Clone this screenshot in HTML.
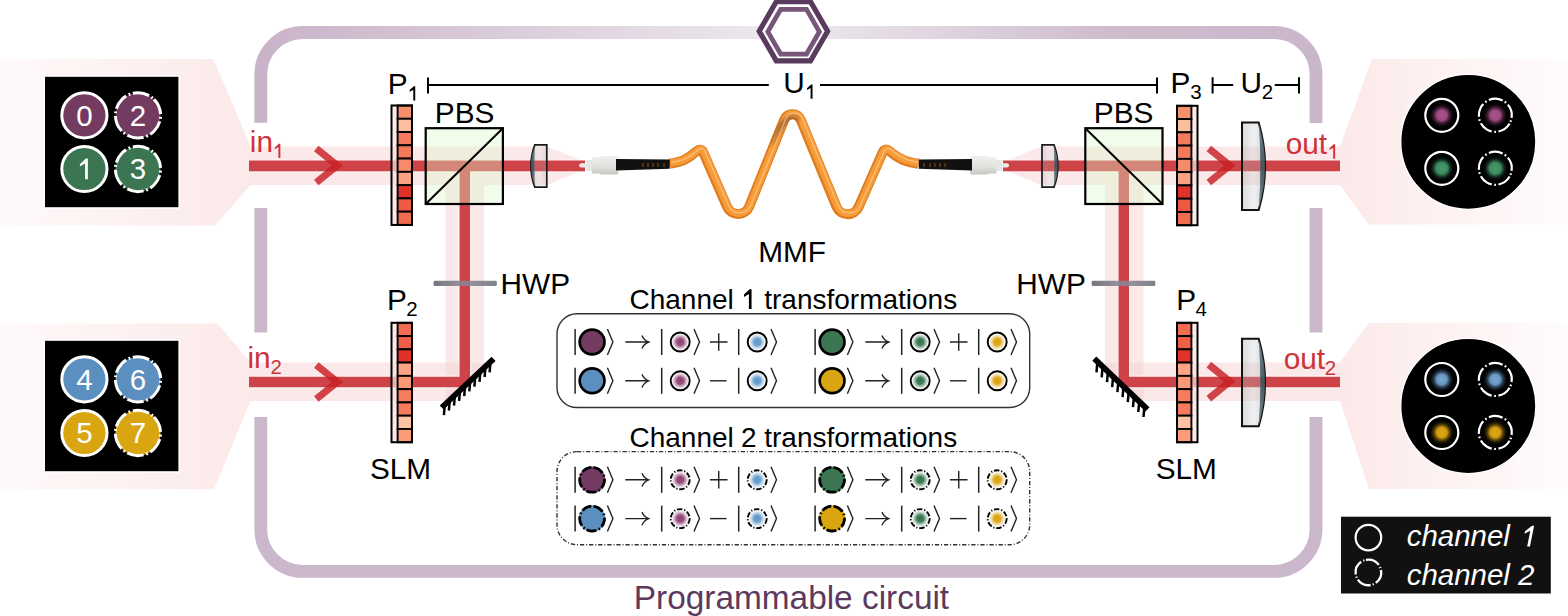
<!DOCTYPE html>
<html><head><meta charset="utf-8"><style>html,body{margin:0;padding:0;background:#fff;overflow:hidden;} svg{display:block;}</style></head>
<body><svg width="1568" height="616" viewBox="0 0 1568 616" font-family='"Liberation Sans", sans-serif'>
<defs>
 <linearGradient id="fanL" gradientUnits="userSpaceOnUse" x1="0" y1="0" x2="250" y2="0">
  <stop offset="0" stop-color="#fffafa"/><stop offset="0.5" stop-color="#fdf1f1"/><stop offset="1" stop-color="#fce9e9"/>
 </linearGradient>
 <linearGradient id="fanR" gradientUnits="userSpaceOnUse" x1="1340" y1="0" x2="1568" y2="0">
  <stop offset="0" stop-color="#fce8e8"/><stop offset="0.3" stop-color="#fdefef"/><stop offset="0.7" stop-color="#fef6f6"/><stop offset="1" stop-color="#fffcfc"/>
 </linearGradient>
 <linearGradient id="topB" gradientUnits="userSpaceOnUse" x1="260" y1="0" x2="1316" y2="0">
  <stop offset="0" stop-color="#c9b3c9"/><stop offset="0.5" stop-color="#eee9ef"/><stop offset="0.8" stop-color="#cfbdcf"/><stop offset="1" stop-color="#cab6cb"/>
 </linearGradient>
 <radialGradient id="gP"><stop offset="0" stop-color="#8e3f72"/><stop offset="0.4" stop-color="#99507f"/><stop offset="1" stop-color="#b88aa6" stop-opacity="0"/></radialGradient>
 <radialGradient id="gB"><stop offset="0" stop-color="#5f98ca"/><stop offset="0.4" stop-color="#6ea2d0"/><stop offset="1" stop-color="#a6c6e2" stop-opacity="0"/></radialGradient>
 <radialGradient id="gG"><stop offset="0" stop-color="#34714c"/><stop offset="0.4" stop-color="#457f5c"/><stop offset="1" stop-color="#8ab29a" stop-opacity="0"/></radialGradient>
 <radialGradient id="gY"><stop offset="0" stop-color="#d9a00e"/><stop offset="0.4" stop-color="#dfaa22"/><stop offset="1" stop-color="#ecd080" stop-opacity="0"/></radialGradient>
 <radialGradient id="oP"><stop offset="0" stop-color="#ac5288"/><stop offset="0.4" stop-color="#9c4a80"/><stop offset="1" stop-color="#000" stop-opacity="0"/></radialGradient>
 <radialGradient id="oB"><stop offset="0" stop-color="#7aa8d2"/><stop offset="0.4" stop-color="#6896c2"/><stop offset="1" stop-color="#000" stop-opacity="0"/></radialGradient>
 <radialGradient id="oG"><stop offset="0" stop-color="#489a6c"/><stop offset="0.45" stop-color="#3c8a5e"/><stop offset="1" stop-color="#000" stop-opacity="0"/></radialGradient>
 <radialGradient id="oY"><stop offset="0" stop-color="#e0aa14"/><stop offset="0.4" stop-color="#cf9a10"/><stop offset="1" stop-color="#000" stop-opacity="0"/></radialGradient>
 <linearGradient id="lensT" x1="0" y1="0" x2="1" y2="0"><stop offset="0" stop-color="#a9acb2" stop-opacity="0.3"/><stop offset="0.5" stop-color="#c8c8cc" stop-opacity="0.16"/><stop offset="1" stop-color="#a6aab0" stop-opacity="0.3"/></linearGradient>
 <linearGradient id="lensD" x1="0" y1="0" x2="0" y2="1"><stop offset="0" stop-color="#6d8088"/><stop offset="0.5" stop-color="#3f5058"/><stop offset="1" stop-color="#6d8088"/></linearGradient>
 <linearGradient id="lensTB" x1="0" y1="0" x2="1" y2="0"><stop offset="0" stop-color="#a0a6ac" stop-opacity="0.42"/><stop offset="0.5" stop-color="#c4c6ca" stop-opacity="0.28"/><stop offset="1" stop-color="#9aa0a6" stop-opacity="0.42"/></linearGradient>
 <linearGradient id="lensR" x1="0" y1="0" x2="1" y2="0"><stop offset="0" stop-color="#d4d9db"/><stop offset="0.5" stop-color="#eceef0"/><stop offset="1" stop-color="#cfd5d8"/></linearGradient>
 <linearGradient id="hwp" x1="0" y1="0" x2="1" y2="0"><stop offset="0" stop-color="#5d5d6a"/><stop offset="0.5" stop-color="#8a8a96"/><stop offset="1" stop-color="#6a6a76"/></linearGradient>
 <linearGradient id="conn" x1="0" y1="0" x2="0" y2="1"><stop offset="0" stop-color="#f0f0ee"/><stop offset="0.6" stop-color="#e0e0dc"/><stop offset="1" stop-color="#c8c8c3"/></linearGradient>
 <filter id="blur1" x="-20%" y="-20%" width="140%" height="140%"><feGaussianBlur stdDeviation="1.1"/></filter>
 <linearGradient id="shadeG" gradientUnits="userSpaceOnUse" x1="770" y1="150" x2="800" y2="117"><stop offset="0" stop-color="#6e4a30" stop-opacity="0"/><stop offset="0.6" stop-color="#6e4a30" stop-opacity="0.6"/><stop offset="1" stop-color="#6e4a30" stop-opacity="0.25"/></linearGradient>
</defs>

<polygon points="0,59 213.5,59 250.5,146.5 250.5,185 215,225.4 0,225.4" fill="url(#fanL)"/>
<polygon points="0,323.4 217.5,323.4 250.5,362.5 250.5,401 214,489.3 0,489.3" fill="url(#fanL)"/>
<polygon points="1340,146.5 1372,59 1568,59 1568,224.4 1368.7,224.4 1340,185" fill="url(#fanR)"/>
<polygon points="1340,362.5 1369,322.7 1568,322.7 1568,489 1369,489 1340,401" fill="url(#fanR)"/>
<path d="M260.8,122.7 V75 A42,42 0 0 1 302.8,32.5 H1274 A42,42 0 0 1 1316,74.5 V122.9" fill="none" stroke="url(#topB)" stroke-width="12.8"/>
<path d="M260.8,208 V332.5 M260.8,417 V529.5 A42,42 0 0 0 302.8,571.4 H1274 A42,42 0 0 0 1316,529.5 V417 M1316,332.5 V208" fill="none" stroke="#cbb7cb" stroke-width="12.8"/>
<polygon points="827.60,31.20 810.50,60.82 776.30,60.82 759.20,31.20 776.30,1.58 810.50,1.58" fill="#fff" stroke="#5a3a5e" stroke-width="5.2"/>
<polygon points="819.40,31.70 806.50,54.04 780.70,54.04 767.80,31.70 780.70,9.36 806.50,9.36" fill="#fff" stroke="#775679" stroke-width="4.7"/>
<rect x="250" y="146.5" width="297" height="38.5" fill="#fbe8e8"/>
<polygon points="547,146.5 585,162 585,169 547,185" fill="#fbe8e8"/>
<polygon points="1003,162 1041,146.5 1041,185 1003,169" fill="#fbe8e8"/>
<rect x="1041" y="146.5" width="299" height="38.5" fill="#fbe8e8"/>
<rect x="250" y="362.5" width="234" height="38.5" fill="#fbe8e8" />
<rect x="1105" y="362.5" width="235" height="38.5" fill="#fbe8e8" />
<rect x="445.5" y="185" width="38.5" height="177.5" fill="#fbe8e8"/>
<rect x="1105" y="185" width="38.5" height="177.5" fill="#fbe8e8"/>
<rect x="445.5" y="362.5" width="38.5" height="38.5" fill="#f8dddd"/>
<rect x="1105" y="362.5" width="38.5" height="38.5" fill="#f8dddd"/>
<path d="M249,165.9 H585 M1003,165.9 H1340 M249,382 H464.8 V171 M1340,382 H1123.8 V171" fill="none" stroke="#fff" stroke-width="13" opacity="0.55"/>
<rect x="249" y="160.5" width="336" height="10.8" fill="#cd4347" opacity="1"/>
<rect x="1003" y="160.5" width="337" height="10.8" fill="#cd4347" opacity="1"/>
<path d="M249,382 H464.8 V171" fill="none" stroke="#cd4347" stroke-width="10.5" opacity="1"/>
<path d="M1340,382 H1123.8 V171" fill="none" stroke="#cd4347" stroke-width="10.5" opacity="1"/>
<polygon points="436,413 499.5,353.3 499.5,413" fill="#fff"/>
<polygon points="1088.6,353.3 1153,414.5 1088.6,414.5" fill="#fff"/>
<path d="M534.8000000000001,144.8 H546.8 V187.2 H534.8000000000001 Q527.0,166.0 534.8000000000001,144.8 Z" fill="url(#lensT)" stroke="#1a1a1a" stroke-width="1.7"/><path d="M534.8000000000001,145.70000000000002 Q527.0,166.0 534.8000000000001,186.29999999999998 Q534.0000000000001,166.0 534.8000000000001,145.70000000000002 Z" fill="url(#lensD)" opacity="0.9"/>
<path d="M1042,144.8 H1054.0 Q1061.8,166.0 1054.0,187.2 H1042 Z" fill="url(#lensT)" stroke="#1a1a1a" stroke-width="1.7"/><path d="M1054.0,145.70000000000002 Q1061.8,166.0 1054.0,186.29999999999998 Q1054.8,166.0 1054.0,145.70000000000002 Z" fill="url(#lensD)" opacity="0.9"/>
<path d="M1242,122.5 H1258.7 Q1271.5,166.25 1258.7,210.0 H1242 Z" fill="url(#lensTB)" stroke="#111" stroke-width="2"/>
<path d="M1258.7,123.5 Q1271.5,166.25 1258.7,209.0 Q1262,166.25 1258.7,123.5 Z" fill="url(#lensD)" opacity="0.92"/>
<path d="M1242,338.7 H1258.7 Q1271.5,382.45 1258.7,426.2 H1242 Z" fill="url(#lensTB)" stroke="#111" stroke-width="2"/>
<path d="M1258.7,339.7 Q1271.5,382.45 1258.7,425.2 Q1262,382.45 1258.7,339.7 Z" fill="url(#lensD)" opacity="0.92"/>
<path d="M316.3,148.5 L337.3,165.5 L316.3,182.5" fill="none" stroke="#c81e24" stroke-width="7.2" opacity="0.82"/>
<path d="M316.3,365 L337.3,382 L316.3,399" fill="none" stroke="#c81e24" stroke-width="7.2" opacity="0.82"/>
<path d="M1208.8,148.5 L1229.8,165.5 L1208.8,182.5" fill="none" stroke="#c81e24" stroke-width="7.2" opacity="0.82"/>
<path d="M1208.8,364.6 L1229.8,381.6 L1208.8,398.6" fill="none" stroke="#c81e24" stroke-width="7.2" opacity="0.82"/>
<rect x="391.5" y="105.5" width="6.1" height="119.43" fill="#fde0e0" fill-opacity="0.7"/><rect x="397.6" y="105.50" width="14.4" height="13.27" fill="#f5906f" stroke="#000" stroke-width="1.9"/><rect x="397.6" y="118.77" width="14.4" height="13.27" fill="#fbbf9f" stroke="#000" stroke-width="1.9"/><rect x="397.6" y="132.04" width="14.4" height="13.27" fill="#f47b5d" stroke="#000" stroke-width="1.9"/><rect x="397.6" y="145.31" width="14.4" height="13.27" fill="#f27a5a" stroke="#000" stroke-width="1.9"/><rect x="397.6" y="158.58" width="14.4" height="13.27" fill="#f58b6b" stroke="#000" stroke-width="1.9"/><rect x="397.6" y="171.85" width="14.4" height="13.27" fill="#f9a283" stroke="#000" stroke-width="1.9"/><rect x="397.6" y="185.12" width="14.4" height="13.27" fill="#e0322a" stroke="#000" stroke-width="1.9"/><rect x="397.6" y="198.39" width="14.4" height="13.27" fill="#ee5a44" stroke="#000" stroke-width="1.9"/><rect x="397.6" y="211.66" width="14.4" height="13.27" fill="#f06c50" stroke="#000" stroke-width="1.9"/><rect x="391.5" y="105.5" width="20.5" height="119.43" fill="none" stroke="#000" stroke-width="2"/>
<rect x="391.5" y="322.8" width="6.1" height="119.43" fill="#fde0e0" fill-opacity="0.7"/><rect x="397.6" y="322.80" width="14.4" height="13.27" fill="#f26c51" stroke="#000" stroke-width="1.9"/><rect x="397.6" y="336.07" width="14.4" height="13.27" fill="#f05f48" stroke="#000" stroke-width="1.9"/><rect x="397.6" y="349.34" width="14.4" height="13.27" fill="#e0322a" stroke="#000" stroke-width="1.9"/><rect x="397.6" y="362.61" width="14.4" height="13.27" fill="#fca485" stroke="#000" stroke-width="1.9"/><rect x="397.6" y="375.88" width="14.4" height="13.27" fill="#fb9878" stroke="#000" stroke-width="1.9"/><rect x="397.6" y="389.15" width="14.4" height="13.27" fill="#f67c5d" stroke="#000" stroke-width="1.9"/><rect x="397.6" y="402.42" width="14.4" height="13.27" fill="#f57b5d" stroke="#000" stroke-width="1.9"/><rect x="397.6" y="415.69" width="14.4" height="13.27" fill="#fdc3a3" stroke="#000" stroke-width="1.9"/><rect x="397.6" y="428.96" width="14.4" height="13.27" fill="#fb9b7a" stroke="#000" stroke-width="1.9"/><rect x="391.5" y="322.8" width="20.5" height="119.43" fill="none" stroke="#000" stroke-width="2"/>
<rect x="1191.4" y="105.8" width="6.1" height="119.43" fill="#fde0e0" fill-opacity="0.7"/><rect x="1177" y="105.80" width="14.4" height="13.27" fill="#f5906f" stroke="#000" stroke-width="1.9"/><rect x="1177" y="119.07" width="14.4" height="13.27" fill="#fbbf9f" stroke="#000" stroke-width="1.9"/><rect x="1177" y="132.34" width="14.4" height="13.27" fill="#f47b5d" stroke="#000" stroke-width="1.9"/><rect x="1177" y="145.61" width="14.4" height="13.27" fill="#f27a5a" stroke="#000" stroke-width="1.9"/><rect x="1177" y="158.88" width="14.4" height="13.27" fill="#f58b6b" stroke="#000" stroke-width="1.9"/><rect x="1177" y="172.15" width="14.4" height="13.27" fill="#f9a283" stroke="#000" stroke-width="1.9"/><rect x="1177" y="185.42" width="14.4" height="13.27" fill="#e0322a" stroke="#000" stroke-width="1.9"/><rect x="1177" y="198.69" width="14.4" height="13.27" fill="#ee5a44" stroke="#000" stroke-width="1.9"/><rect x="1177" y="211.96" width="14.4" height="13.27" fill="#f06c50" stroke="#000" stroke-width="1.9"/><rect x="1177" y="105.8" width="20.5" height="119.43" fill="none" stroke="#000" stroke-width="2"/>
<rect x="1191.4" y="322.8" width="6.1" height="119.43" fill="#fde0e0" fill-opacity="0.7"/><rect x="1177" y="322.80" width="14.4" height="13.27" fill="#f26c51" stroke="#000" stroke-width="1.9"/><rect x="1177" y="336.07" width="14.4" height="13.27" fill="#f05f48" stroke="#000" stroke-width="1.9"/><rect x="1177" y="349.34" width="14.4" height="13.27" fill="#e0322a" stroke="#000" stroke-width="1.9"/><rect x="1177" y="362.61" width="14.4" height="13.27" fill="#fca485" stroke="#000" stroke-width="1.9"/><rect x="1177" y="375.88" width="14.4" height="13.27" fill="#fb9878" stroke="#000" stroke-width="1.9"/><rect x="1177" y="389.15" width="14.4" height="13.27" fill="#f67c5d" stroke="#000" stroke-width="1.9"/><rect x="1177" y="402.42" width="14.4" height="13.27" fill="#f57b5d" stroke="#000" stroke-width="1.9"/><rect x="1177" y="415.69" width="14.4" height="13.27" fill="#fdc3a3" stroke="#000" stroke-width="1.9"/><rect x="1177" y="428.96" width="14.4" height="13.27" fill="#fb9b7a" stroke="#000" stroke-width="1.9"/><rect x="1177" y="322.8" width="20.5" height="119.43" fill="none" stroke="#000" stroke-width="2"/>
<rect x="425.7" y="128.2" width="77.2" height="75.8" fill="#dcf8c8" fill-opacity="0.38" stroke="#000" stroke-width="2.2"/>
<line x1="425.7" y1="204.0" x2="502.9" y2="128.2" stroke="#000" stroke-width="2"/>
<rect x="1085.3" y="128.2" width="77.2" height="75.8" fill="#dcf8c8" fill-opacity="0.38" stroke="#000" stroke-width="2.2"/>
<line x1="1085.3" y1="128.2" x2="1162.5" y2="204.0" stroke="#000" stroke-width="2"/>
<rect x="433.6" y="280.8" width="63.2" height="5.2" rx="1.2" fill="url(#hwp)" opacity="0.85"/>
<rect x="1091.7" y="280.8" width="63.6" height="5.2" rx="1.2" fill="url(#hwp)" opacity="0.85"/>
<line x1="441.7" y1="407.5" x2="493.6" y2="358.8" stroke="#000" stroke-width="5.8"/><line x1="444.8" y1="404.6" x2="443.9" y2="415.2" stroke="#000" stroke-width="2.5"/><line x1="449.8" y1="399.9" x2="448.9" y2="410.5" stroke="#000" stroke-width="2.5"/><line x1="454.9" y1="395.1" x2="454.0" y2="405.7" stroke="#000" stroke-width="2.5"/><line x1="460.0" y1="390.3" x2="459.1" y2="400.9" stroke="#000" stroke-width="2.5"/><line x1="465.1" y1="385.5" x2="464.2" y2="396.1" stroke="#000" stroke-width="2.5"/><line x1="470.2" y1="380.8" x2="469.3" y2="391.4" stroke="#000" stroke-width="2.5"/><line x1="475.3" y1="376.0" x2="474.4" y2="386.6" stroke="#000" stroke-width="2.5"/><line x1="480.4" y1="371.2" x2="479.5" y2="381.8" stroke="#000" stroke-width="2.5"/><line x1="485.5" y1="366.4" x2="484.6" y2="377.0" stroke="#000" stroke-width="2.5"/><line x1="490.5" y1="361.7" x2="489.6" y2="372.3" stroke="#000" stroke-width="2.5"/>
<line x1="1094.3" y1="358.7" x2="1147.5" y2="409.4" stroke="#000" stroke-width="5.8"/><line x1="1097.4" y1="361.7" x2="1096.5" y2="372.3" stroke="#000" stroke-width="2.5"/><line x1="1102.6" y1="366.7" x2="1101.7" y2="377.3" stroke="#000" stroke-width="2.5"/><line x1="1107.9" y1="371.6" x2="1107.0" y2="382.2" stroke="#000" stroke-width="2.5"/><line x1="1113.1" y1="376.6" x2="1112.2" y2="387.2" stroke="#000" stroke-width="2.5"/><line x1="1118.3" y1="381.6" x2="1117.4" y2="392.2" stroke="#000" stroke-width="2.5"/><line x1="1123.5" y1="386.5" x2="1122.6" y2="397.1" stroke="#000" stroke-width="2.5"/><line x1="1128.7" y1="391.5" x2="1127.8" y2="402.1" stroke="#000" stroke-width="2.5"/><line x1="1133.9" y1="396.5" x2="1133.0" y2="407.1" stroke="#000" stroke-width="2.5"/><line x1="1139.2" y1="401.4" x2="1138.3" y2="412.0" stroke="#000" stroke-width="2.5"/><line x1="1144.4" y1="406.4" x2="1143.5" y2="417.0" stroke="#000" stroke-width="2.5"/>
<path d="M669.75,163.70 L674.50,162.90 L679.60,161.60 L683.50,160.20 L686.90,158.30 L690.00,156.40 L692.80,154.30 L695.50,152.00 L697.67,150.40 A3.50,3.50 0 0 1 702.96,151.81 L727.06,206.87 A12.00,12.00 0 0 0 749.18,206.55 L784.13,119.98 A9.00,9.00 0 0 1 800.80,119.93 L836.55,206.85 A12.00,12.00 0 0 0 858.64,207.10 L882.90,151.68 A3.50,3.50 0 0 1 888.09,150.19 L890.72,152.00 L893.62,154.30 L896.63,156.40 L899.96,158.30 L903.61,160.20 L907.80,161.60 L913.28,162.90 L918.38,163.70" fill="none" stroke="#df7a1f" stroke-width="10" stroke-linejoin="round"/>
<path d="M669.75,163.70 L674.50,162.90 L679.60,161.60 L683.50,160.20 L686.90,158.30 L690.00,156.40 L692.80,154.30 L695.50,152.00 L697.67,150.40 A3.50,3.50 0 0 1 702.96,151.81 L727.06,206.87 A12.00,12.00 0 0 0 749.18,206.55 L784.13,119.98 A9.00,9.00 0 0 1 800.80,119.93 L836.55,206.85 A12.00,12.00 0 0 0 858.64,207.10 L882.90,151.68 A3.50,3.50 0 0 1 888.09,150.19 L890.72,152.00 L893.62,154.30 L896.63,156.40 L899.96,158.30 L903.61,160.20 L907.80,161.60 L913.28,162.90 L918.38,163.70" fill="none" stroke="#f59b37" stroke-width="7.2" stroke-linejoin="round" transform="translate(0.7,-0.6)"/>
<mask id="fibmask" maskUnits="userSpaceOnUse" x="600" y="80" width="400" height="160"><path d="M669.75,163.70 L674.50,162.90 L679.60,161.60 L683.50,160.20 L686.90,158.30 L690.00,156.40 L692.80,154.30 L695.50,152.00 L697.67,150.40 A3.50,3.50 0 0 1 702.96,151.81 L727.06,206.87 A12.00,12.00 0 0 0 749.18,206.55 L784.13,119.98 A9.00,9.00 0 0 1 800.80,119.93 L836.55,206.85 A12.00,12.00 0 0 0 858.64,207.10 L882.90,151.68 A3.50,3.50 0 0 1 888.09,150.19 L890.72,152.00 L893.62,154.30 L896.63,156.40 L899.96,158.30 L903.61,160.20 L907.80,161.60 L913.28,162.90 L918.38,163.70" fill="none" stroke="#fff" stroke-width="9.6" stroke-linejoin="round"/></mask>
<g mask="url(#fibmask)"><path d="M772,146 C777,133 783,121 790,117.5 C793,116.5 796,117.5 799,120" fill="none" stroke="url(#shadeG)" stroke-width="6" filter="url(#blur1)"/></g>
<path d="M669.75,163.70 L674.50,162.90 L679.60,161.60 L683.50,160.20 L686.90,158.30 L690.00,156.40 L692.80,154.30 L695.50,152.00 L697.67,150.40 A3.50,3.50 0 0 1 702.96,151.81 L727.06,206.87 A12.00,12.00 0 0 0 749.18,206.55 L784.13,119.98 A9.00,9.00 0 0 1 800.80,119.93 L836.55,206.85 A12.00,12.00 0 0 0 858.64,207.10 L882.90,151.68 A3.50,3.50 0 0 1 888.09,150.19 L890.72,152.00 L893.62,154.30 L896.63,156.40 L899.96,158.30 L903.61,160.20 L907.80,161.60 L913.28,162.90 L918.38,163.70" fill="none" stroke="#ffd3a0" stroke-width="1.6" stroke-linejoin="round" opacity="0.55" transform="translate(1.6,-1.3)"/>
<rect x="579.2" y="163.3" width="8" height="4.3" rx="2" fill="#e8ece8"/><rect x="586.4" y="160" width="6" height="11" fill="#e6e6e2"/><rect x="592" y="157" width="8" height="16.6" rx="1" fill="url(#conn)"/><rect x="599.5" y="156" width="19" height="18.5" rx="1.5" fill="url(#conn)"/><path d="M616,159 L669.8,159.6 L669.8,168.8 L616,170.6 Z" fill="#111"/><line x1="643" y1="163" x2="643" y2="167" stroke="#9a5a15" stroke-width="0.9"/><line x1="648" y1="163" x2="648" y2="167" stroke="#9a5a15" stroke-width="0.9"/><line x1="653" y1="163" x2="653" y2="167" stroke="#9a5a15" stroke-width="0.9"/><line x1="658" y1="163" x2="658" y2="167" stroke="#9a5a15" stroke-width="0.9"/><line x1="664" y1="163" x2="664" y2="167" stroke="#9a5a15" stroke-width="0.9"/>
<rect x="1001" y="163.3" width="8" height="4.3" rx="2" fill="#e8ece8"/><rect x="996" y="160" width="6" height="11" fill="#e6e6e2"/><rect x="988.5" y="157" width="8" height="16.6" rx="1" fill="url(#conn)"/><rect x="970" y="156" width="19" height="18.5" rx="1.5" fill="url(#conn)"/><path d="M972,159 L918.8,159.6 L918.8,168.8 L972,170.6 Z" fill="#111"/><line x1="924" y1="163" x2="924" y2="167" stroke="#9a5a15" stroke-width="0.9"/><line x1="930" y1="163" x2="930" y2="167" stroke="#9a5a15" stroke-width="0.9"/><line x1="935" y1="163" x2="935" y2="167" stroke="#9a5a15" stroke-width="0.9"/><line x1="940" y1="163" x2="940" y2="167" stroke="#9a5a15" stroke-width="0.9"/><line x1="945" y1="163" x2="945" y2="167" stroke="#9a5a15" stroke-width="0.9"/>
<text transform="translate(387.76,94.20) scale(1,1.02)" font-size="29.8" fill="#000" text-anchor="start" font-style="normal">P</text>
<polygon points="415.24,100.60 415.24,86.25 413.80,86.25 409.70,90.12 409.70,91.85 413.29,89.69 413.29,100.60" fill="#000"/>
<text transform="translate(434.86,122.70) scale(1,1.02)" font-size="29.8" fill="#000" text-anchor="start" font-style="normal">PBS</text>
<text transform="translate(1093.86,122.90) scale(1,1.02)" font-size="29.8" fill="#000" text-anchor="start" font-style="normal">PBS</text>
<text transform="translate(1170.46,93.00) scale(1,1.02)" font-size="29.8" fill="#000" text-anchor="start" font-style="normal">P</text>
<text transform="translate(1190.32,98.75) scale(1,1.02)" font-size="20.5" fill="#000" text-anchor="start" font-style="normal">3</text>
<text transform="translate(1240.50,93.00) scale(1,1.02)" font-size="29.8" fill="#000" text-anchor="start" font-style="normal">U</text>
<text transform="translate(1261.87,98.75) scale(1,1.02)" font-size="20.5" fill="#000" text-anchor="start" font-style="normal">2</text>
<text transform="translate(783.30,93.00) scale(1,1.02)" font-size="29.8" fill="#000" text-anchor="start" font-style="normal">U</text>
<polygon points="812.53,98.80 812.53,84.45 811.10,84.45 807.00,88.32 807.00,90.05 810.59,87.89 810.59,98.80" fill="#000"/>
<text transform="translate(387.06,310.00) scale(1,1.02)" font-size="29.8" fill="#000" text-anchor="start" font-style="normal">P</text>
<text transform="translate(406.17,315.70) scale(1,1.02)" font-size="20.5" fill="#000" text-anchor="start" font-style="normal">2</text>
<text transform="translate(1176.16,310.00) scale(1,1.02)" font-size="29.8" fill="#000" text-anchor="start" font-style="normal">P</text>
<text transform="translate(1195.53,315.70) scale(1,1.02)" font-size="20.5" fill="#000" text-anchor="start" font-style="normal">4</text>
<text transform="translate(758.26,261.80) scale(1,1.02)" font-size="29.8" fill="#000" text-anchor="start" font-style="normal">MMF</text>
<text transform="translate(500.56,294.20) scale(1,1.02)" font-size="29.8" fill="#000" text-anchor="start" font-style="normal">HWP</text>
<text transform="translate(1016.36,293.60) scale(1,1.02)" font-size="29.8" fill="#000" text-anchor="start" font-style="normal">HWP</text>
<text transform="translate(369.95,478.90) scale(1,1.02)" font-size="29.8" fill="#000" text-anchor="start" font-style="normal">SLM</text>
<text transform="translate(1155.65,478.70) scale(1,1.02)" font-size="29.8" fill="#000" text-anchor="start" font-style="normal">SLM</text>
<text transform="translate(249.80,152.30) scale(1,1.02)" font-size="29.8" fill="#cd3338" text-anchor="start" font-style="normal">in</text>
<polygon points="280.34,158.00 280.34,143.65 278.90,143.65 274.80,147.52 274.80,149.25 278.39,147.09 278.39,158.00" fill="#cd3338"/>
<text transform="translate(247.40,367.90) scale(1,1.02)" font-size="29.8" fill="#cd3338" text-anchor="start" font-style="normal">in</text>
<text transform="translate(270.47,373.80) scale(1,1.02)" font-size="20.5" fill="#cd3338" text-anchor="start" font-style="normal">2</text>
<text transform="translate(1285.65,153.60) scale(1,1.02)" font-size="29.8" fill="#cd3338" text-anchor="start" font-style="normal">out</text>
<polygon points="1335.13,158.70 1335.13,144.35 1333.70,144.35 1329.60,148.22 1329.60,149.95 1333.19,147.79 1333.19,158.70" fill="#cd3338"/>
<text transform="translate(1283.65,369.10) scale(1,1.02)" font-size="29.8" fill="#cd3338" text-anchor="start" font-style="normal">out</text>
<text transform="translate(1324.87,374.80) scale(1,1.02)" font-size="20.5" fill="#cd3338" text-anchor="start" font-style="normal">2</text>
<path d="M428,85 H768.8 M820,85 H1157 M428,77.5 V93.5 M1157,77.5 V93.5 M1212.6,85 H1233.2 M1212.6,77.2 V93.5 M1274.8,85 H1299 M1299,77.2 V93.5" stroke="#000" stroke-width="2" fill="none"/>
<rect x="44.2" y="76" width="135" height="132" fill="#000" stroke="#fff" stroke-width="1.6"/><circle cx="84.4" cy="115.3" r="22.6" fill="#733b60" stroke="#fff" stroke-width="3"/><text transform="translate(84.40,125.50) scale(1,1.02)" font-size="29.5" fill="#fff" text-anchor="middle" font-style="normal">0</text><circle cx="138" cy="115.3" r="22.6" fill="#733b60" stroke="#fff" stroke-width="3" stroke-dasharray="16.5,2.7,1.8,2.67" transform="rotate(-45 138 115.3)"/><text transform="translate(138.00,125.50) scale(1,1.02)" font-size="29.5" fill="#fff" text-anchor="middle" font-style="normal">2</text><circle cx="84.4" cy="169" r="22.6" fill="#3c7552" stroke="#fff" stroke-width="3"/><polygon points="87.87,179.20 87.87,158.55 85.80,158.55 79.90,164.13 79.90,166.60 85.06,163.51 85.06,179.20" fill="#fff"/><circle cx="138" cy="169" r="22.6" fill="#3c7552" stroke="#fff" stroke-width="3" stroke-dasharray="16.5,2.7,1.8,2.67" transform="rotate(-45 138 169)"/><text transform="translate(138.00,179.20) scale(1,1.02)" font-size="29.5" fill="#fff" text-anchor="middle" font-style="normal">3</text>
<rect x="44.2" y="340" width="135" height="132" fill="#000" stroke="#fff" stroke-width="1.6"/><circle cx="84.4" cy="379.3" r="22.6" fill="#5a8fc0" stroke="#fff" stroke-width="3"/><text transform="translate(84.40,389.50) scale(1,1.02)" font-size="29.5" fill="#fff" text-anchor="middle" font-style="normal">4</text><circle cx="138" cy="379.3" r="22.6" fill="#5a8fc0" stroke="#fff" stroke-width="3" stroke-dasharray="16.5,2.7,1.8,2.67" transform="rotate(-45 138 379.3)"/><text transform="translate(138.00,389.50) scale(1,1.02)" font-size="29.5" fill="#fff" text-anchor="middle" font-style="normal">6</text><circle cx="84.4" cy="433" r="22.6" fill="#d9a612" stroke="#fff" stroke-width="3"/><text transform="translate(84.40,443.20) scale(1,1.02)" font-size="29.5" fill="#fff" text-anchor="middle" font-style="normal">5</text><circle cx="138" cy="433" r="22.6" fill="#d9a612" stroke="#fff" stroke-width="3" stroke-dasharray="16.5,2.7,1.8,2.67" transform="rotate(-45 138 433)"/><text transform="translate(138.00,443.20) scale(1,1.02)" font-size="29.5" fill="#fff" text-anchor="middle" font-style="normal">7</text>
<circle cx="1468.3" cy="141.8" r="67.6" fill="#000" stroke="#fff" stroke-width="1.4"/><circle cx="1441.8" cy="115.30000000000001" r="13" fill="url(#oP)"/><circle cx="1441.8" cy="115.30000000000001" r="16.5" fill="none" stroke="#fff" stroke-width="2.2"/><circle cx="1495.3" cy="115.30000000000001" r="13" fill="url(#oP)"/><circle cx="1495.3" cy="115.30000000000001" r="16.5" fill="none" stroke="#fff" stroke-width="2.2" stroke-dasharray="14,2.5,1.7,2.53" transform="rotate(30 1495.3 115.30000000000001)"/><circle cx="1441.8" cy="168.3" r="13" fill="url(#oG)"/><circle cx="1441.8" cy="168.3" r="16.5" fill="none" stroke="#fff" stroke-width="2.2"/><circle cx="1495.3" cy="168.3" r="13" fill="url(#oG)"/><circle cx="1495.3" cy="168.3" r="16.5" fill="none" stroke="#fff" stroke-width="2.2" stroke-dasharray="14,2.5,1.7,2.53" transform="rotate(30 1495.3 168.3)"/>
<circle cx="1468.3" cy="406" r="67.6" fill="#000" stroke="#fff" stroke-width="1.4"/><circle cx="1441.8" cy="379.5" r="13" fill="url(#oB)"/><circle cx="1441.8" cy="379.5" r="16.5" fill="none" stroke="#fff" stroke-width="2.2"/><circle cx="1495.3" cy="379.5" r="13" fill="url(#oB)"/><circle cx="1495.3" cy="379.5" r="16.5" fill="none" stroke="#fff" stroke-width="2.2" stroke-dasharray="14,2.5,1.7,2.53" transform="rotate(30 1495.3 379.5)"/><circle cx="1441.8" cy="432.5" r="13" fill="url(#oY)"/><circle cx="1441.8" cy="432.5" r="16.5" fill="none" stroke="#fff" stroke-width="2.2"/><circle cx="1495.3" cy="432.5" r="13" fill="url(#oY)"/><circle cx="1495.3" cy="432.5" r="16.5" fill="none" stroke="#fff" stroke-width="2.2" stroke-dasharray="14,2.5,1.7,2.53" transform="rotate(30 1495.3 432.5)"/>
<text transform="translate(629.48,308.90) scale(1,1.02)" font-size="28" fill="#000" text-anchor="start" font-style="normal">Channel</text><polygon points="751.56,308.90 751.56,289.30 749.60,289.30 744.00,294.59 744.00,296.94 748.90,294.00 748.90,308.90" fill="#000"/><text transform="translate(764.28,308.90) scale(1,1.02)" font-size="28" fill="#000" text-anchor="start" font-style="normal">transformations</text><rect x="557" y="313.8" width="472.7" height="93.7" rx="20" fill="none" stroke="#333" stroke-width="1.4"/><line x1="575.1" y1="329.0" x2="575.1" y2="355.0" stroke="#222" stroke-width="1.5"/><circle cx="592.1" cy="342.0" r="12.4" fill="#733b60" stroke="#000" stroke-width="2.7"/><path d="M607.4,329.0 L612.9,342.0 L607.4,355.0" fill="none" stroke="#222" stroke-width="1.4"/><path d="M625.3,342.0 H648.3 M642.0,335.4 Q643.8,340.2 648.6999999999999,342.0 Q643.8,343.8 642.0,348.6" fill="none" stroke="#222" stroke-width="1.4"/><line x1="661.7" y1="329.0" x2="661.7" y2="355.0" stroke="#222" stroke-width="1.5"/><circle cx="680.2" cy="342.0" r="9.5" fill="#fff"/><circle cx="680.2" cy="342.0" r="8.6" fill="url(#gP)"/><circle cx="680.2" cy="342.0" r="9.5" fill="none" stroke="#000" stroke-width="1.9"/><path d="M694.0,329.0 L699.5,342.0 L694.0,355.0" fill="none" stroke="#222" stroke-width="1.4"/><path d="M710,342.0 H727.5 M718.75,333.2 V350.8" stroke="#222" stroke-width="1.4"/><line x1="738.7" y1="329.0" x2="738.7" y2="355.0" stroke="#222" stroke-width="1.5"/><circle cx="757.2" cy="342.0" r="9.5" fill="#fff"/><circle cx="757.2" cy="342.0" r="8.6" fill="url(#gB)"/><circle cx="757.2" cy="342.0" r="9.5" fill="none" stroke="#000" stroke-width="1.9"/><path d="M771.0,329.0 L776.5,342.0 L771.0,355.0" fill="none" stroke="#222" stroke-width="1.4"/><line x1="575.1" y1="367.8" x2="575.1" y2="393.8" stroke="#222" stroke-width="1.5"/><circle cx="592.1" cy="380.8" r="12.4" fill="#5a8fc0" stroke="#000" stroke-width="2.7"/><path d="M607.4,367.8 L612.9,380.8 L607.4,393.8" fill="none" stroke="#222" stroke-width="1.4"/><path d="M625.3,380.8 H648.3 M642.0,374.2 Q643.8,379.0 648.6999999999999,380.8 Q643.8,382.6 642.0,387.40000000000003" fill="none" stroke="#222" stroke-width="1.4"/><line x1="661.7" y1="367.8" x2="661.7" y2="393.8" stroke="#222" stroke-width="1.5"/><circle cx="680.2" cy="380.8" r="9.5" fill="#fff"/><circle cx="680.2" cy="380.8" r="8.6" fill="url(#gP)"/><circle cx="680.2" cy="380.8" r="9.5" fill="none" stroke="#000" stroke-width="1.9"/><path d="M694.0,367.8 L699.5,380.8 L694.0,393.8" fill="none" stroke="#222" stroke-width="1.4"/><path d="M710,380.8 H726.6" stroke="#222" stroke-width="1.4"/><line x1="738.7" y1="367.8" x2="738.7" y2="393.8" stroke="#222" stroke-width="1.5"/><circle cx="757.2" cy="380.8" r="9.5" fill="#fff"/><circle cx="757.2" cy="380.8" r="8.6" fill="url(#gB)"/><circle cx="757.2" cy="380.8" r="9.5" fill="none" stroke="#000" stroke-width="1.9"/><path d="M771.0,367.8 L776.5,380.8 L771.0,393.8" fill="none" stroke="#222" stroke-width="1.4"/><line x1="815.1" y1="329.0" x2="815.1" y2="355.0" stroke="#222" stroke-width="1.5"/><circle cx="832.1" cy="342.0" r="12.4" fill="#3c7552" stroke="#000" stroke-width="2.7"/><path d="M847.4,329.0 L852.9,342.0 L847.4,355.0" fill="none" stroke="#222" stroke-width="1.4"/><path d="M865.3,342.0 H888.3 M882.0,335.4 Q883.8,340.2 888.6999999999999,342.0 Q883.8,343.8 882.0,348.6" fill="none" stroke="#222" stroke-width="1.4"/><line x1="901.7" y1="329.0" x2="901.7" y2="355.0" stroke="#222" stroke-width="1.5"/><circle cx="920.2" cy="342.0" r="9.5" fill="#fff"/><circle cx="920.2" cy="342.0" r="8.6" fill="url(#gG)"/><circle cx="920.2" cy="342.0" r="9.5" fill="none" stroke="#000" stroke-width="1.9"/><path d="M934.0,329.0 L939.5,342.0 L934.0,355.0" fill="none" stroke="#222" stroke-width="1.4"/><path d="M950,342.0 H967.5 M958.75,333.2 V350.8" stroke="#222" stroke-width="1.4"/><line x1="978.7" y1="329.0" x2="978.7" y2="355.0" stroke="#222" stroke-width="1.5"/><circle cx="997.2" cy="342.0" r="9.5" fill="#fff"/><circle cx="997.2" cy="342.0" r="8.6" fill="url(#gY)"/><circle cx="997.2" cy="342.0" r="9.5" fill="none" stroke="#000" stroke-width="1.9"/><path d="M1011.0,329.0 L1016.5,342.0 L1011.0,355.0" fill="none" stroke="#222" stroke-width="1.4"/><line x1="815.1" y1="367.8" x2="815.1" y2="393.8" stroke="#222" stroke-width="1.5"/><circle cx="832.1" cy="380.8" r="12.4" fill="#d9a612" stroke="#000" stroke-width="2.7"/><path d="M847.4,367.8 L852.9,380.8 L847.4,393.8" fill="none" stroke="#222" stroke-width="1.4"/><path d="M865.3,380.8 H888.3 M882.0,374.2 Q883.8,379.0 888.6999999999999,380.8 Q883.8,382.6 882.0,387.40000000000003" fill="none" stroke="#222" stroke-width="1.4"/><line x1="901.7" y1="367.8" x2="901.7" y2="393.8" stroke="#222" stroke-width="1.5"/><circle cx="920.2" cy="380.8" r="9.5" fill="#fff"/><circle cx="920.2" cy="380.8" r="8.6" fill="url(#gG)"/><circle cx="920.2" cy="380.8" r="9.5" fill="none" stroke="#000" stroke-width="1.9"/><path d="M934.0,367.8 L939.5,380.8 L934.0,393.8" fill="none" stroke="#222" stroke-width="1.4"/><path d="M950,380.8 H966.6" stroke="#222" stroke-width="1.4"/><line x1="978.7" y1="367.8" x2="978.7" y2="393.8" stroke="#222" stroke-width="1.5"/><circle cx="997.2" cy="380.8" r="9.5" fill="#fff"/><circle cx="997.2" cy="380.8" r="8.6" fill="url(#gY)"/><circle cx="997.2" cy="380.8" r="9.5" fill="none" stroke="#000" stroke-width="1.9"/><path d="M1011.0,367.8 L1016.5,380.8 L1011.0,393.8" fill="none" stroke="#222" stroke-width="1.4"/>
<text transform="translate(629.48,446.90) scale(1,1.02)" font-size="28" fill="#000" text-anchor="start" font-style="normal">Channel</text><text transform="translate(741.00,446.90) scale(1,1.02)" font-size="28" fill="#000" text-anchor="start" font-style="normal">2</text><text transform="translate(764.28,446.90) scale(1,1.02)" font-size="28" fill="#000" text-anchor="start" font-style="normal">transformations</text><rect x="557" y="451.6" width="472.7" height="93.1" rx="20" fill="none" stroke="#333" stroke-width="1.4" stroke-dasharray="4.3,1.9,1,1.9"/><line x1="575.1" y1="466.8" x2="575.1" y2="492.8" stroke="#222" stroke-width="1.5"/><circle cx="592.1" cy="479.8" r="13.3" fill="#733b60"/><circle cx="592.1" cy="479.8" r="12.4" fill="none" stroke="#000" stroke-width="2.8" stroke-dasharray="10,2.3,1.5,2.3" transform="rotate(-80 592.1 479.8)"/><path d="M607.4,466.8 L612.9,479.8 L607.4,492.8" fill="none" stroke="#222" stroke-width="1.4"/><path d="M625.3,479.8 H648.3 M642.0,473.2 Q643.8,478.0 648.6999999999999,479.8 Q643.8,481.6 642.0,486.40000000000003" fill="none" stroke="#222" stroke-width="1.4"/><line x1="661.7" y1="466.8" x2="661.7" y2="492.8" stroke="#222" stroke-width="1.5"/><circle cx="680.2" cy="479.8" r="9.5" fill="#fff"/><circle cx="680.2" cy="479.8" r="8.6" fill="url(#gP)"/><circle cx="680.2" cy="479.8" r="9.5" fill="none" stroke="#000" stroke-width="1.9" stroke-dasharray="5.5,1.8,1.2,1.8"/><path d="M694.0,466.8 L699.5,479.8 L694.0,492.8" fill="none" stroke="#222" stroke-width="1.4"/><path d="M710,479.8 H727.5 M718.75,471.0 V488.6" stroke="#222" stroke-width="1.4"/><line x1="738.7" y1="466.8" x2="738.7" y2="492.8" stroke="#222" stroke-width="1.5"/><circle cx="757.2" cy="479.8" r="9.5" fill="#fff"/><circle cx="757.2" cy="479.8" r="8.6" fill="url(#gB)"/><circle cx="757.2" cy="479.8" r="9.5" fill="none" stroke="#000" stroke-width="1.9" stroke-dasharray="5.5,1.8,1.2,1.8"/><path d="M771.0,466.8 L776.5,479.8 L771.0,492.8" fill="none" stroke="#222" stroke-width="1.4"/><line x1="575.1" y1="505.6" x2="575.1" y2="531.6" stroke="#222" stroke-width="1.5"/><circle cx="592.1" cy="518.6" r="13.3" fill="#5a8fc0"/><circle cx="592.1" cy="518.6" r="12.4" fill="none" stroke="#000" stroke-width="2.8" stroke-dasharray="10,2.3,1.5,2.3" transform="rotate(-80 592.1 518.6)"/><path d="M607.4,505.6 L612.9,518.6 L607.4,531.6" fill="none" stroke="#222" stroke-width="1.4"/><path d="M625.3,518.6 H648.3 M642.0,512.0 Q643.8,516.8000000000001 648.6999999999999,518.6 Q643.8,520.4 642.0,525.2" fill="none" stroke="#222" stroke-width="1.4"/><line x1="661.7" y1="505.6" x2="661.7" y2="531.6" stroke="#222" stroke-width="1.5"/><circle cx="680.2" cy="518.6" r="9.5" fill="#fff"/><circle cx="680.2" cy="518.6" r="8.6" fill="url(#gP)"/><circle cx="680.2" cy="518.6" r="9.5" fill="none" stroke="#000" stroke-width="1.9" stroke-dasharray="5.5,1.8,1.2,1.8"/><path d="M694.0,505.6 L699.5,518.6 L694.0,531.6" fill="none" stroke="#222" stroke-width="1.4"/><path d="M710,518.6 H726.6" stroke="#222" stroke-width="1.4"/><line x1="738.7" y1="505.6" x2="738.7" y2="531.6" stroke="#222" stroke-width="1.5"/><circle cx="757.2" cy="518.6" r="9.5" fill="#fff"/><circle cx="757.2" cy="518.6" r="8.6" fill="url(#gB)"/><circle cx="757.2" cy="518.6" r="9.5" fill="none" stroke="#000" stroke-width="1.9" stroke-dasharray="5.5,1.8,1.2,1.8"/><path d="M771.0,505.6 L776.5,518.6 L771.0,531.6" fill="none" stroke="#222" stroke-width="1.4"/><line x1="815.1" y1="466.8" x2="815.1" y2="492.8" stroke="#222" stroke-width="1.5"/><circle cx="832.1" cy="479.8" r="13.3" fill="#3c7552"/><circle cx="832.1" cy="479.8" r="12.4" fill="none" stroke="#000" stroke-width="2.8" stroke-dasharray="10,2.3,1.5,2.3" transform="rotate(-80 832.1 479.8)"/><path d="M847.4,466.8 L852.9,479.8 L847.4,492.8" fill="none" stroke="#222" stroke-width="1.4"/><path d="M865.3,479.8 H888.3 M882.0,473.2 Q883.8,478.0 888.6999999999999,479.8 Q883.8,481.6 882.0,486.40000000000003" fill="none" stroke="#222" stroke-width="1.4"/><line x1="901.7" y1="466.8" x2="901.7" y2="492.8" stroke="#222" stroke-width="1.5"/><circle cx="920.2" cy="479.8" r="9.5" fill="#fff"/><circle cx="920.2" cy="479.8" r="8.6" fill="url(#gG)"/><circle cx="920.2" cy="479.8" r="9.5" fill="none" stroke="#000" stroke-width="1.9" stroke-dasharray="5.5,1.8,1.2,1.8"/><path d="M934.0,466.8 L939.5,479.8 L934.0,492.8" fill="none" stroke="#222" stroke-width="1.4"/><path d="M950,479.8 H967.5 M958.75,471.0 V488.6" stroke="#222" stroke-width="1.4"/><line x1="978.7" y1="466.8" x2="978.7" y2="492.8" stroke="#222" stroke-width="1.5"/><circle cx="997.2" cy="479.8" r="9.5" fill="#fff"/><circle cx="997.2" cy="479.8" r="8.6" fill="url(#gY)"/><circle cx="997.2" cy="479.8" r="9.5" fill="none" stroke="#000" stroke-width="1.9" stroke-dasharray="5.5,1.8,1.2,1.8"/><path d="M1011.0,466.8 L1016.5,479.8 L1011.0,492.8" fill="none" stroke="#222" stroke-width="1.4"/><line x1="815.1" y1="505.6" x2="815.1" y2="531.6" stroke="#222" stroke-width="1.5"/><circle cx="832.1" cy="518.6" r="13.3" fill="#d9a612"/><circle cx="832.1" cy="518.6" r="12.4" fill="none" stroke="#000" stroke-width="2.8" stroke-dasharray="10,2.3,1.5,2.3" transform="rotate(-80 832.1 518.6)"/><path d="M847.4,505.6 L852.9,518.6 L847.4,531.6" fill="none" stroke="#222" stroke-width="1.4"/><path d="M865.3,518.6 H888.3 M882.0,512.0 Q883.8,516.8000000000001 888.6999999999999,518.6 Q883.8,520.4 882.0,525.2" fill="none" stroke="#222" stroke-width="1.4"/><line x1="901.7" y1="505.6" x2="901.7" y2="531.6" stroke="#222" stroke-width="1.5"/><circle cx="920.2" cy="518.6" r="9.5" fill="#fff"/><circle cx="920.2" cy="518.6" r="8.6" fill="url(#gG)"/><circle cx="920.2" cy="518.6" r="9.5" fill="none" stroke="#000" stroke-width="1.9" stroke-dasharray="5.5,1.8,1.2,1.8"/><path d="M934.0,505.6 L939.5,518.6 L934.0,531.6" fill="none" stroke="#222" stroke-width="1.4"/><path d="M950,518.6 H966.6" stroke="#222" stroke-width="1.4"/><line x1="978.7" y1="505.6" x2="978.7" y2="531.6" stroke="#222" stroke-width="1.5"/><circle cx="997.2" cy="518.6" r="9.5" fill="#fff"/><circle cx="997.2" cy="518.6" r="8.6" fill="url(#gY)"/><circle cx="997.2" cy="518.6" r="9.5" fill="none" stroke="#000" stroke-width="1.9" stroke-dasharray="5.5,1.8,1.2,1.8"/><path d="M1011.0,505.6 L1016.5,518.6 L1011.0,531.6" fill="none" stroke="#222" stroke-width="1.4"/>
<rect x="1341" y="516.7" width="209.8" height="76.8" fill="#111"/>
<circle cx="1368.4" cy="537.6" r="12.8" fill="none" stroke="#fff" stroke-width="2.2"/>
<circle cx="1368.4" cy="572.4" r="12.8" fill="none" stroke="#fff" stroke-width="2.3" stroke-dasharray="14.5,2.2,1.2,2.2" transform="rotate(-101 1368.4 572.4)"/>
<text transform="translate(1406.64,546.40) scale(1,1.02)" font-size="29.5" fill="#fff" text-anchor="start" font-style="italic">channel</text>
<polygon points="1529.96,546.40 1534.09,525.75 1532.03,525.75 1525.01,531.33 1524.52,533.80 1530.30,530.71 1527.16,546.40" fill="#fff"/>
<text transform="translate(1406.64,584.50) scale(1,1.02)" font-size="29.5" fill="#fff" text-anchor="start" font-style="italic">channel 2</text>
<text transform="translate(633.76,608.90) scale(1,1.02)" font-size="33.4" fill="#5c3a5e" text-anchor="start" font-style="normal">Programmable circuit</text></svg></body></html>
